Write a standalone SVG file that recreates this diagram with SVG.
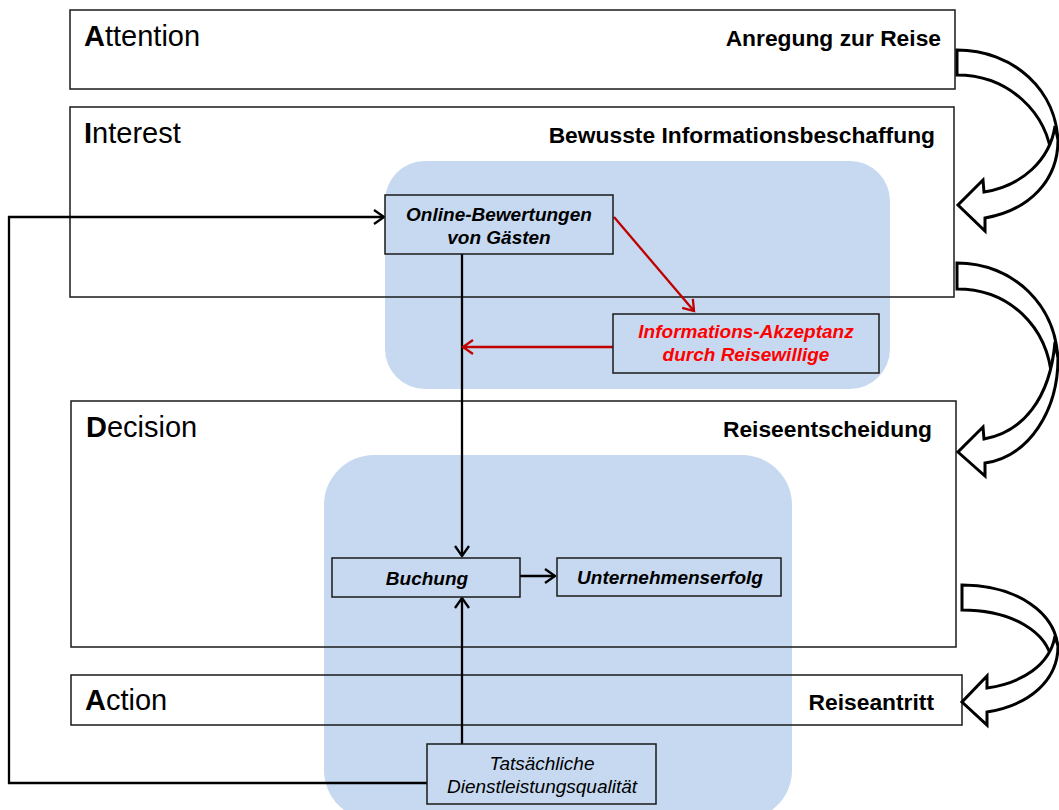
<svg xmlns="http://www.w3.org/2000/svg" width="1059" height="810" viewBox="0 0 1059 810">
<style>
.stage{fill:none;stroke:#1a1a1a;stroke-width:1.5}
.region{fill:#c6d9f0;stroke:none}
.node{fill:#c6d9f0;stroke:#1a1a1a;stroke-width:1.5}
.hdr{font-family:"Liberation Sans",Arial,sans-serif;font-size:29px;fill:#000}
.lbl{font-family:"Liberation Sans",Arial,sans-serif;font-size:22.8px;font-weight:bold;fill:#000;text-anchor:end}
.nt{font-family:"Liberation Sans",Arial,sans-serif;font-size:19px;font-style:italic;font-weight:bold;fill:#000;text-anchor:middle}
.conn{fill:none;stroke:#000;stroke-width:2.3}
.red{fill:none;stroke:#c00000;stroke-width:2.3}
.big{fill:#fff;stroke:#000;stroke-width:3;stroke-linejoin:miter}
</style>
<defs>
<marker id="ah" markerUnits="userSpaceOnUse" markerWidth="14" markerHeight="16" refX="11" refY="7" orient="auto" overflow="visible">
<path d="M1,0 L11,7 L1,14" fill="none" stroke="#000" stroke-width="2.3"/>
</marker>
<marker id="ahr" markerUnits="userSpaceOnUse" markerWidth="14" markerHeight="16" refX="11" refY="7" orient="auto" overflow="visible">
<path d="M1,0 L11,7 L1,14" fill="none" stroke="#c00000" stroke-width="2.3"/>
</marker>
</defs>
<rect x="0" y="0" width="1059" height="810" fill="#fff"/>
<g id="regions">
<rect class="region" x="385" y="161" width="505" height="228" rx="40" ry="40"/>
<rect class="region" x="324" y="455" width="468" height="365" rx="50" ry="50"/>
</g>
<g id="stage-attention">
<rect class="stage" x="70" y="10" width="885" height="79"/>
<text class="hdr" x="84" y="46"><tspan font-weight="bold">A</tspan>ttention</text>
<text class="lbl" x="941" y="46">Anregung zur Reise</text>
</g>
<g id="stage-interest">
<rect class="stage" x="70" y="107" width="884" height="190"/>
<text class="hdr" x="84" y="143"><tspan font-weight="bold">I</tspan>nterest</text>
<text class="lbl" x="935" y="143">Bewusste Informationsbeschaffung</text>
</g>
<g id="stage-decision">
<rect class="stage" x="71" y="401" width="885" height="246"/>
<text class="hdr" x="86" y="437"><tspan font-weight="bold">D</tspan>ecision</text>
<text class="lbl" x="932" y="437">Reiseentscheidung</text>
</g>
<g id="stage-action">
<rect class="stage" x="71" y="675" width="891" height="50"/>
<text class="hdr" x="85" y="710"><tspan font-weight="bold">A</tspan>ction</text>
<text class="lbl" x="934" y="710">Reiseantritt</text>
</g>
<g id="connectors">
<line class="conn" x1="462" y1="254" x2="462" y2="556" marker-end="url(#ah)"/>
<line class="conn" x1="462" y1="744" x2="462" y2="598" marker-end="url(#ah)"/>
<line class="conn" x1="520" y1="576" x2="555" y2="576" marker-end="url(#ah)"/>
<polyline class="conn" points="427,783 9,783 9,217 384,217" marker-end="url(#ah)"/>
<line class="red" x1="614" y1="217" x2="694" y2="311" marker-end="url(#ahr)"/>
<line class="red" x1="613" y1="347" x2="463" y2="347" marker-end="url(#ahr)"/>
</g>
<g id="node-online">
<rect class="node" x="385" y="195" width="228" height="59"/>
<text class="nt" x="499" y="221">Online-Bewertungen</text>
<text class="nt" x="499" y="244">von Gästen</text>
</g>
<g id="node-akzeptanz">
<rect class="node" x="613" y="314" width="266" height="59"/>
<text class="nt" x="746" y="338" style="fill:#ff0000">Informations-Akzeptanz</text>
<text class="nt" x="746" y="361" style="fill:#ff0000">durch Reisewillige</text>
</g>
<g id="node-buchung">
<rect class="node" x="332" y="558" width="188" height="39"/>
<text class="nt" x="427" y="585">Buchung</text>
</g>
<g id="node-erfolg">
<rect class="node" x="557" y="558" width="224" height="38"/>
<text class="nt" x="670" y="584">Unternehmenserfolg</text>
</g>
<g id="node-qualitaet">
<rect class="node" x="427" y="744" width="229" height="60"/>
<text class="nt" x="542" y="770" style="font-weight:normal">Tatsächliche</text>
<text class="nt" x="542" y="793" style="font-weight:normal">Dienstleistungsqualität</text>
</g>
<g id="flow-arrows">
<path class="big" d="M957,50 C1013,50 1058,90 1058,145 L1052,160 C1048,112 1008,75 957,75 Z"/>
<path class="big" d="M1058,140 C1058,180 1030,210 985,218 L985,231 L958,205 L983,180 L984,192 C1022,186 1050,160 1055,126 Z"/>
<path class="big" d="M957,263 C1013,263 1058,305 1058,365 L1052,380 C1048,325 1008,289 957,289 Z"/>
<path class="big" d="M1058,358 C1058,410 1030,456 985,463 L985,476 L958,452 L983,427 L984,439 C1022,432 1050,400 1055,342 Z"/>
<path class="big" d="M962,585 C1015,585 1058,612 1058,652 L1052,662 C1048,632 1012,610 962,610 Z"/>
<path class="big" d="M1058,646 C1058,680 1030,705 987,712 L987,725 L962,702 L987,676 L987,688 C1022,683 1050,665 1055,636 Z"/>
</g>
</svg>
